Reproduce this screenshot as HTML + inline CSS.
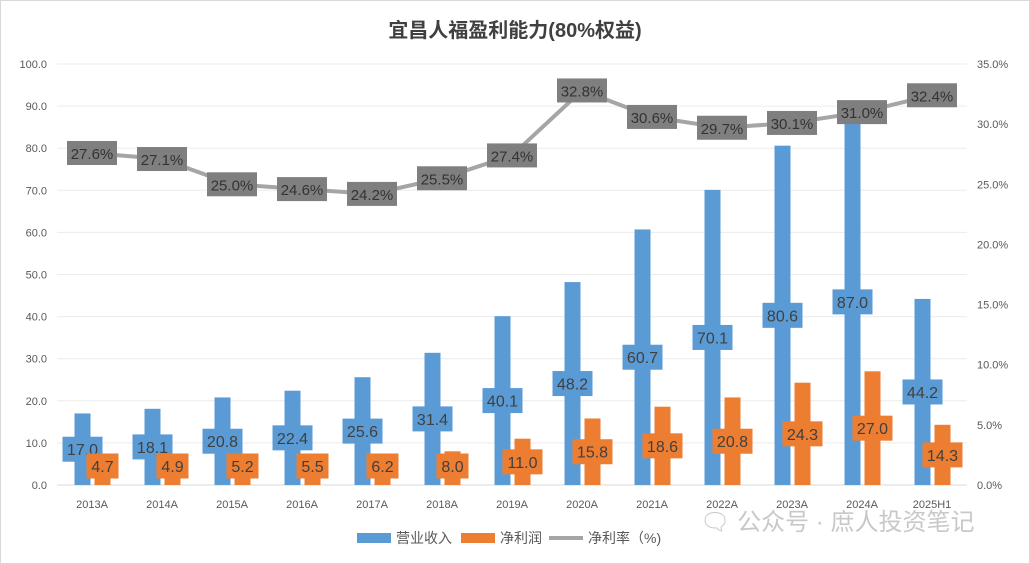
<!DOCTYPE html>
<html><head><meta charset="utf-8"><style>
body{margin:0;background:#fff;}
svg{display:block;font-family:"Liberation Sans","Noto Sans CJK SC",sans-serif;}
</style></head><body>
<svg id="c" width="1030" height="564">
<rect x="0.5" y="0.5" width="1029" height="563" fill="#fff" stroke="#d9d9d9"/>
<text x="515" y="37" text-anchor="middle" font-size="20" font-weight="bold" fill="#404040">宜昌人福盈利能力(80%权益)</text>
<g id="grid"></g><g id="bars"></g><g id="line"></g><g id="labels"></g>
<g>
<rect x="357" y="533" width="34" height="10" fill="#5b9bd5"/>
<text x="396" y="543" font-size="14" fill="#595959">营业收入</text>
<rect x="461" y="533" width="34" height="10" fill="#ed7d31"/>
<text x="500" y="543" font-size="14" fill="#595959">净利润</text>
<line x1="549" y1="538" x2="583" y2="538" stroke="#a5a5a5" stroke-width="4"/>
<text x="588" y="543" font-size="14" fill="#595959">净利率（%)</text>
</g>
<text x="700" y="530" font-size="24" fill="#c8c8c8">🗨 公众号 · 庶人投资笔记</text>
</svg>
<script>
const categories=["2013A","2014A","2015A","2016A","2017A","2018A","2019A","2020A","2021A","2022A","2023A","2024A","2025H1"];
const revenue=[17.0,18.1,20.8,22.4,25.6,31.4,40.1,48.2,60.7,70.1,80.6,87.0,44.2];
const profit=[4.7,4.9,5.2,5.5,6.2,8.0,11.0,15.8,18.6,20.8,24.3,27.0,14.3];
const margin=[27.6,27.1,25.0,24.6,24.2,25.5,27.4,32.8,30.6,29.7,30.1,31.0,32.4];
const leftTicks=[0,10,20,30,40,50,60,70,80,90,100];
const rightTicks=[0,5,10,15,20,25,30,35];
const NS="http://www.w3.org/2000/svg";
const X0=57,X1=967,Y0=485,Y1=64;
const step=(X1-X0)/categories.length;
const xc=i=>X0+step*(i+0.5);
const yL=v=>Y0-(v/100)*(Y0-Y1);
const yR=v=>Y0-(v/35)*(Y0-Y1);
function mk(tag,attrs,parent,txt){const e=document.createElementNS(NS,tag);for(const k in attrs)e.setAttribute(k,attrs[k]);if(txt!==undefined)e.textContent=txt;document.getElementById(parent).appendChild(e);return e;}
leftTicks.forEach(t=>{
 const l=mk('line',{x1:X0,x2:X1,y1:yL(t),y2:yL(t),stroke:t===0?'#d9d9d9':'#ececec'},'grid');
 
 
 const tx=mk('text',{x:47,y:yL(t)+4,'text-anchor':'end','font-size':11,fill:'#595959'},'grid',t.toFixed(1));
 
 
});
rightTicks.forEach(t=>{
 const tx=mk('text',{x:977,y:yR(t)+4,'font-size':11,fill:'#595959'},'grid',t.toFixed(1)+'%');
 
 
});
categories.forEach((c,i)=>{
 const bx=xc(i)-9.5, ox=xc(i)+10.5;
 const tx=mk('text',{x:xc(i),y:508,'text-anchor':'middle','font-size':11,fill:'#595959'},'grid',c);
 
 
 const b=mk('rect',{x:bx-8,y:yL(revenue[i]),width:16,height:Y0-yL(revenue[i]),fill:'#5b9bd5'},'bars');
 
 
 const o=mk('rect',{x:ox-8,y:yL(profit[i]),width:16,height:Y0-yL(profit[i]),fill:'#ed7d31'},'bars');
 
 
 const by=(yL(revenue[i])+Y0)/2;
 const bl=mk('rect',{x:bx-20,y:by-12.5,width:40,height:25,fill:'#5b9bd5'},'labels');
 
 
 const bt=mk('text',{x:bx,y:by+6,'text-anchor':'middle','font-size':16,fill:'#404040'},'labels',revenue[i].toFixed(1));
 
 
 const oy=Math.min((yL(profit[i])+Y0)/2,466);
 const w=profit[i]>=10?40:32;
 const ol=mk('rect',{x:ox-w/2,y:oy-12.5,width:w,height:25,fill:'#ed7d31'},'labels');
 
 
 const ot=mk('text',{x:ox,y:oy+6,'text-anchor':'middle','font-size':16,fill:'#404040'},'labels',profit[i].toFixed(1));
 
 
});
const pts=margin.map((m,i)=>xc(i)+','+yR(m)).join(' ');
const pl=mk('polyline',{points:pts,fill:'none',stroke:'#a5a5a5','stroke-width':4},'line');


margin.forEach((m,i)=>{
 const r=mk('rect',{x:xc(i)-25,y:yR(m)-12,width:50,height:24,fill:'#7f7f7f'},'labels');
 
 
 const t=mk('text',{x:xc(i),y:yR(m)+6,'text-anchor':'middle','font-size':15,fill:'#333'},'labels',m.toFixed(1)+'%');
 
 
});
</script>
</body></html>
